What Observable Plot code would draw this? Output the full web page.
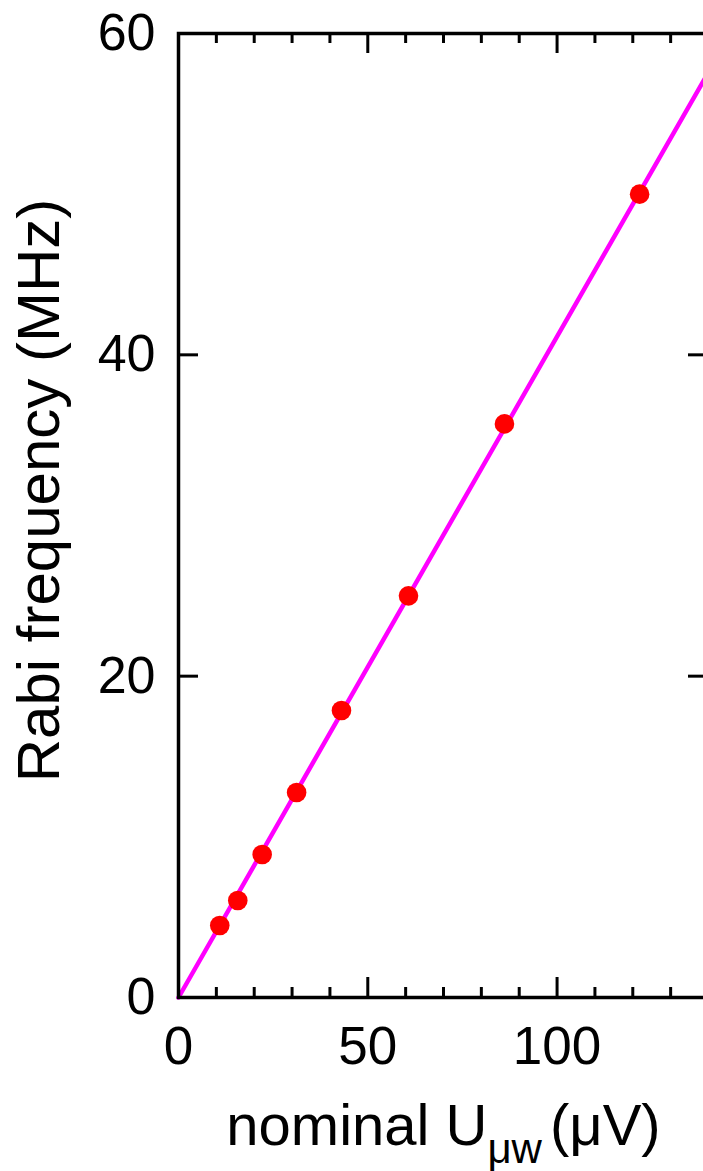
<!DOCTYPE html>
<html><head><meta charset="utf-8">
<script src="https://cdn.jsdelivr.net/npm/d3@7"></script>
<script src="https://cdn.jsdelivr.net/npm/@observablehq/plot@0.6"></script>
<style>
html,body{margin:0;padding:0;background:#fff;overflow:hidden;}
#chart svg{max-width:none !important;display:block;}
</style></head><body><div id="chart"></div>
<script>
// measured data (nominal microwave voltage in µV, Rabi frequency in MHz)
const voltage = [10.9, 15.66, 22.1, 31.2, 43.05, 60.75, 86.1, 121.8];
const rabi = [4.48, 6.04, 8.9, 12.76, 17.86, 25.0, 35.7, 50.0];
// linear fit line endpoints
const fitVoltage = [0, 140];
const fitRabi = [0, 57.6];
// ticks
const xMajorTicks = [0, 50, 100];
const xMinorTicks = [10, 20, 30, 40, 60, 70, 80, 90, 110, 120, 130];
const yMajorTicks = [0, 20, 40, 60];
const yTitle = "Rabi frequency (MHz)";
const xTitleMain = "nominal U";
const xTitleSub = "μw";
const xTitleUnit = "(μV)";

const points = voltage.map((v, i) => ({v, r: rabi[i]}));
const fit = fitVoltage.map((v, i) => ({v, r: fitRabi[i]}));

const W = 708, H = 1171, mL = 178, mT = 33, mB = 174, mR = 0;
const fh = H - mT - mB, fw = W - mL - mR;
const major = 20, minor = 10;
const font = "Liberation Sans, Arial, sans-serif";

const plot = Plot.plot({
  width: W, height: H,
  marginLeft: mL, marginTop: mT, marginBottom: mB, marginRight: mR,
  x: {domain: [0, 140]},
  y: {domain: [0, 60]},
  style: {fontFamily: font, fontSize: "52px", color: "#000", background: "#fff"},
  marks: [
    Plot.line(fit, {x: "v", y: "r", stroke: "#ff00ff", strokeWidth: 4.5}),
    Plot.dot(points, {x: "v", y: "r", r: 9.8, fill: "#ff0000", stroke: "none"}),
    // bottom ticks (inward)
    Plot.tickX(xMajorTicks, {x: d => d, insetTop: fh - major, stroke: "#000", strokeWidth: 3}),
    Plot.tickX(xMinorTicks, {x: d => d, insetTop: fh - minor, stroke: "#000", strokeWidth: 3}),
    // top ticks (inward)
    Plot.tickX(xMajorTicks, {x: d => d, insetBottom: fh - major, stroke: "#000", strokeWidth: 3}),
    Plot.tickX(xMinorTicks, {x: d => d, insetBottom: fh - minor, stroke: "#000", strokeWidth: 3}),
    // left and right ticks (inward)
    Plot.tickY(yMajorTicks, {y: d => d, insetRight: fw - major, stroke: "#000", strokeWidth: 3}),
    Plot.tickY(yMajorTicks, {y: d => d, insetLeft: fw - major, stroke: "#000", strokeWidth: 3}),
    Plot.frame({stroke: "#000", strokeWidth: 3.5}),
    Plot.axisX({ticks: xMajorTicks, tickSize: 0, tickPadding: 29, fontSize: 53, label: null, tickFormat: d => String(d)}),
    Plot.axisY({ticks: yMajorTicks, tickSize: 0, tickPadding: 23, fontSize: 52, label: null, tickFormat: d => String(d)}),
    Plot.text([yTitle], {text: d => d, frameAnchor: "left", rotate: -90, dx: -139, dy: -25,
      textAnchor: "middle", lineAnchor: "middle", fontSize: 60, fill: "#000"}),
    Plot.text([xTitleMain], {text: d => d, frameAnchor: "bottom", dy: 129,
      textAnchor: "middle", lineAnchor: "middle", fontSize: 58, fill: "#000"})
  ]
});
document.getElementById("chart").appendChild(plot);

// rich x-axis title with subscript
d3.select(plot).selectAll("text").filter(function() { return this.textContent === xTitleMain; })
  .each(function() {
    const t = d3.select(this);
    t.text(null);
    t.append("tspan").text(xTitleMain);
    t.append("tspan").attr("dy", 18).attr("font-size", 42).text(xTitleSub);
    t.append("tspan").attr("dy", -18).attr("dx", 8).text(xTitleUnit);
  });
</script></body></html>
